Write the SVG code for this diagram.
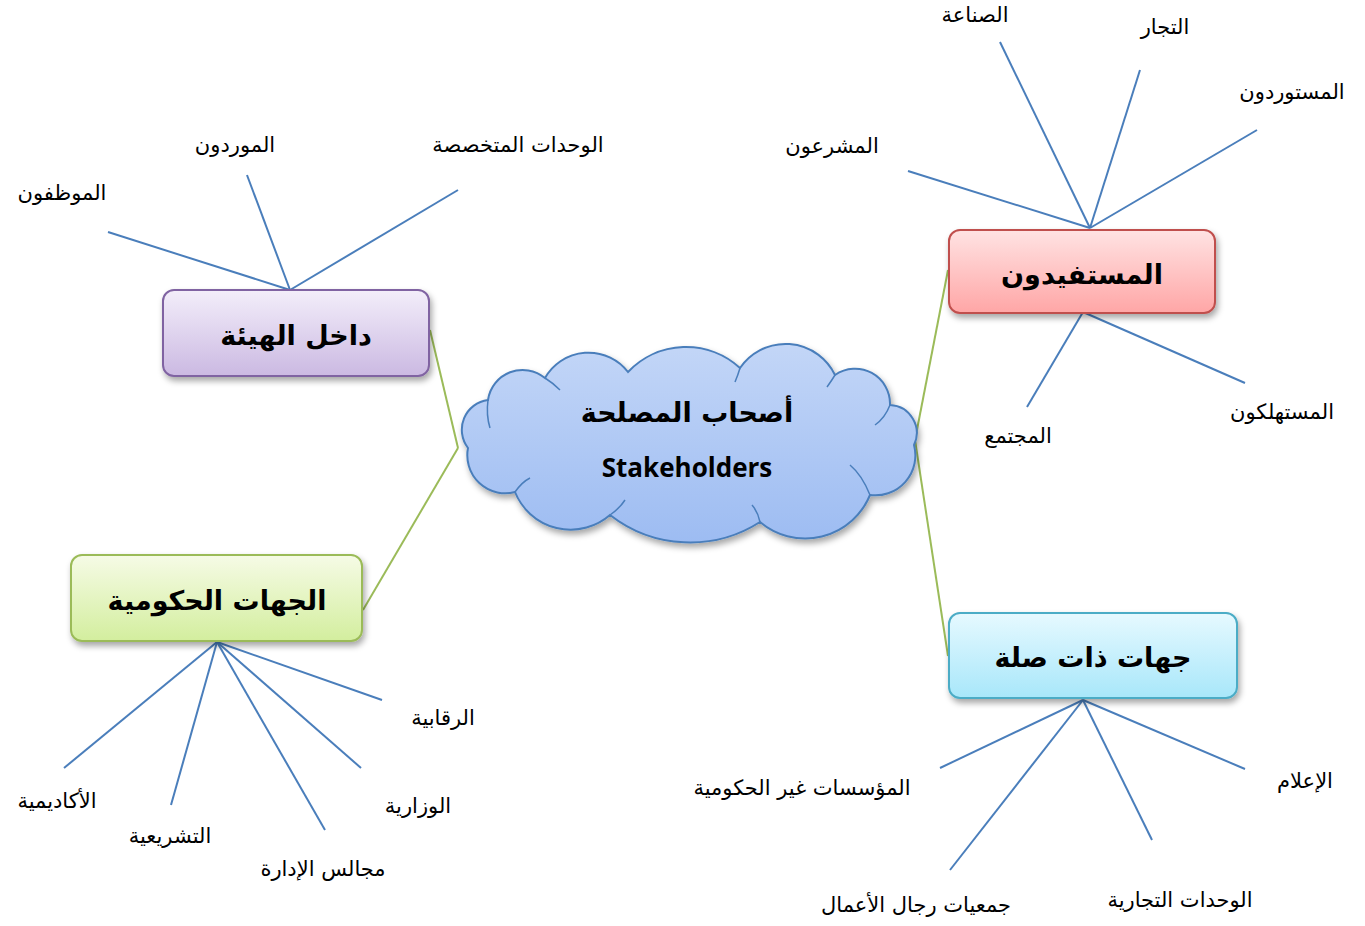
<svg xmlns="http://www.w3.org/2000/svg" width="1365" height="926" viewBox="0 0 1365 926">
<defs>
<style>
.lbl{font-family:"DejaVu Sans","Noto Sans",sans-serif;font-size:21px;fill:#000;text-anchor:middle;direction:rtl}
.box{font-family:"DejaVu Sans","Noto Sans",sans-serif;font-size:27px;font-weight:bold;fill:#000;text-anchor:middle;direction:rtl}
.blue{stroke:#4A7EBB;stroke-width:2;fill:none}
.green{stroke:#9BBB59;stroke-width:2;fill:none}
.inner{stroke:#4A7EBB;stroke-width:1.5;fill:none}
</style>
<filter id="sh" x="-10%" y="-10%" width="125%" height="135%">
<feDropShadow dx="2" dy="4" stdDeviation="3" flood-color="#000" flood-opacity="0.35"/>
</filter>
<linearGradient id="gP" x1="0" y1="0" x2="0" y2="1"><stop offset="0" stop-color="#F3EEFA"/><stop offset="1" stop-color="#CBB9E2"/></linearGradient>
<linearGradient id="gG" x1="0" y1="0" x2="0" y2="1"><stop offset="0" stop-color="#F6FBE6"/><stop offset="1" stop-color="#D3EE9E"/></linearGradient>
<linearGradient id="gR" x1="0" y1="0" x2="0" y2="1"><stop offset="0" stop-color="#FFE3E3"/><stop offset="1" stop-color="#FFA6A6"/></linearGradient>
<linearGradient id="gC" x1="0" y1="0" x2="0" y2="1"><stop offset="0" stop-color="#E6F9FF"/><stop offset="1" stop-color="#A8E7FA"/></linearGradient>
<linearGradient id="gCl" x1="0" y1="0" x2="0" y2="1"><stop offset="0" stop-color="#C3D6F7"/><stop offset="1" stop-color="#9DBCF2"/></linearGradient>
</defs>

<g id="connectors">
<line class="green" x1="430" y1="330" x2="458" y2="448"/>
<line class="green" x1="458" y1="448" x2="363" y2="610"/>
<line class="green" x1="948" y1="270" x2="915" y2="440"/>
<line class="green" x1="915" y1="440" x2="948" y2="656"/>
<line class="blue" x1="1090" y1="228" x2="1000" y2="42"/>
<line class="blue" x1="1090" y1="228" x2="1140" y2="70"/>
<line class="blue" x1="1090" y1="228" x2="1257" y2="130"/>
<line class="blue" x1="1090" y1="228" x2="908" y2="171"/>
<line class="blue" x1="1083" y1="312" x2="1245" y2="383"/>
<line class="blue" x1="1083" y1="312" x2="1027" y2="407"/>
<line class="blue" x1="290" y1="290" x2="108" y2="232"/>
<line class="blue" x1="290" y1="290" x2="247" y2="175"/>
<line class="blue" x1="290" y1="290" x2="458" y2="190"/>
<line class="blue" x1="217" y1="642" x2="382" y2="700"/>
<line class="blue" x1="217" y1="642" x2="64" y2="768"/>
<line class="blue" x1="217" y1="642" x2="361" y2="768"/>
<line class="blue" x1="217" y1="642" x2="171" y2="805"/>
<line class="blue" x1="217" y1="642" x2="325" y2="830"/>
<line class="blue" x1="1083" y1="700" x2="1245" y2="769"/>
<line class="blue" x1="1083" y1="700" x2="940" y2="768"/>
<line class="blue" x1="1083" y1="700" x2="950" y2="870"/>
<line class="blue" x1="1083" y1="700" x2="1152" y2="840"/>
</g>

<g id="cloud">
<path d="M468,448 A30,30 0 0 1 488,400 A35,35 0 0 1 545,378 A50,50 0 0 1 628,372 A80,80 0 0 1 740,368 A55,55 0 0 1 835,375 A35,35 0 0 1 890,405 A28,28 0 0 1 914,445 A40,40 0 0 1 870,495 A70,70 0 0 1 760,522 A130,130 0 0 1 610,515 A60,60 0 0 1 515,492 A38,38 0 0 1 468,448 Z" fill="url(#gCl)" stroke="#4A7EBB" stroke-width="2" filter="url(#sh)"/>
<path class="inner" d="M488,400 Q486,415 490,428"/>
<path class="inner" d="M545,378 Q553,383 560,390"/>
<path class="inner" d="M740,368 Q738,375 735,382"/>
<path class="inner" d="M835,375 Q832,380 827,387"/>
<path class="inner" d="M890,405 Q885,418 875,425"/>
<path class="inner" d="M870,495 Q862,475 850,465"/>
<path class="inner" d="M760,522 Q758,512 752,505"/>
<path class="inner" d="M610,515 Q620,508 625,500"/>
<path class="inner" d="M515,492 Q522,482 530,478"/>
<text class="box" x="687" y="422">أصحاب المصلحة</text>
<text x="687" y="477" font-family="Open Sans, Liberation Sans, sans-serif" font-size="26" font-weight="bold" text-anchor="middle">Stakeholders</text>
</g>

<g id="n-inside">
<rect x="163" y="290" width="266" height="86" rx="11" fill="url(#gP)" stroke="#8064A2" stroke-width="2" filter="url(#sh)"/>
<text class="box" x="296" y="345">داخل الهيئة</text>
</g>
<g id="n-gov">
<rect x="71" y="555" width="291" height="86" rx="11" fill="url(#gG)" stroke="#9BBB59" stroke-width="2" filter="url(#sh)"/>
<text class="box" x="217" y="610">الجهات الحكومية</text>
</g>
<g id="n-benef">
<rect x="949" y="230" width="266" height="83" rx="11" fill="url(#gR)" stroke="#C0504D" stroke-width="2" filter="url(#sh)"/>
<text class="box" x="1082" y="284">المستفيدون</text>
</g>
<g id="n-related">
<rect x="949" y="613" width="288" height="85" rx="11" fill="url(#gC)" stroke="#4BACC6" stroke-width="2" filter="url(#sh)"/>
<text class="box" x="1093" y="667">جهات ذات صلة</text>
</g>

<g id="labels">
<text class="lbl" x="975" y="22">الصناعة</text>
<text class="lbl" x="1165" y="34">التجار</text>
<text class="lbl" x="1292" y="99">المستوردون</text>
<text class="lbl" x="832" y="153">المشرعون</text>
<text class="lbl" x="1282" y="419">المستهلكون</text>
<text class="lbl" x="1018" y="443">المجتمع</text>
<text class="lbl" x="62" y="200">الموظفون</text>
<text class="lbl" x="235" y="152">الموردون</text>
<text class="lbl" x="518" y="152">الوحدات المتخصصة</text>
<text class="lbl" x="443" y="725">الرقابية</text>
<text class="lbl" x="57" y="808">الأكاديمية</text>
<text class="lbl" x="418" y="813">الوزارية</text>
<text class="lbl" x="170" y="843">التشريعية</text>
<text class="lbl" x="323" y="876">مجالس الإدارة</text>
<text class="lbl" x="1305" y="788">الإعلام</text>
<text class="lbl" x="802" y="795">المؤسسات غير الحكومية</text>
<text class="lbl" x="916" y="912">جمعيات رجال الأعمال</text>
<text class="lbl" x="1180" y="907">الوحدات التجارية</text>
</g>
</svg>
